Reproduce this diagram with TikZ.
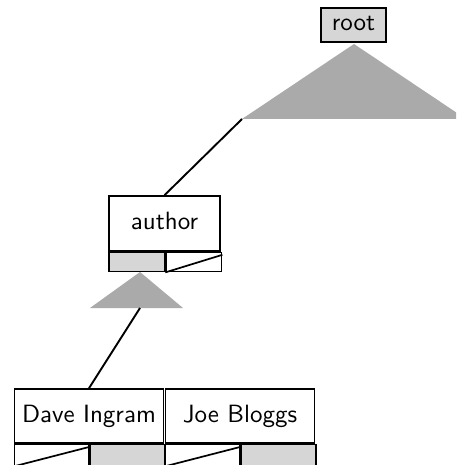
\documentclass[tikz,border=0pt]{standalone}
\usetikzlibrary{calc}
\definecolor{cellgray}{HTML}{D6D6D6}
\definecolor{trigray}{HTML}{AAAAAA}
\newcommand{\boxtext}[1]{\scalebox{2.5}{\fontsize{10}{12}\selectfont\sffamily #1}}
\begin{document}
\begin{tikzpicture}[x=1pt,y=-1pt]
\tikzset{
  box/.style={draw, line width=1.6pt, fill=white, inner sep=0pt,
    text height=18pt, text depth=6pt},
  cell/.style={draw, line width=1.6pt, fill=white, inner sep=0pt, anchor=north west},
  ptr/.style={cell, fill=cellgray},
  tri/.style={fill=trigray},
  link/.style={line width=1.9pt},
  diag/.style={line width=1.7pt},
}
\useasboundingbox (0,0) rectangle (456,465);
\clip (0,0) rectangle (456,465);

% root
\node[box, fill=cellgray, minimum width=65pt, minimum height=34pt] (root) at (353.5,25) {\boxtext{root}};
\coordinate (t1apex) at (354,44);
\coordinate (t1l) at (242,119);
\coordinate (t1r) at (466,119);
\fill[tri] (t1apex) -- (t1l) -- (t1r) -- cycle;

% author
\node[box, minimum width=111pt, minimum height=55pt] (author) at (164.5,223.5) {\boxtext{author}};
\node[ptr, minimum width=55.5pt, minimum height=19pt] (authorL) at (author.south west) {};
\node[cell, minimum width=55.5pt, minimum height=19pt] (authorR) at (authorL.north east) {};
\draw[diag] (authorR.south west) -- ($(authorR.north east)+(0,3)$);

\draw[link] (t1l) -- (author.north);

% small triangle
\coordinate (t2apex) at (140,272);
\coordinate (t2l) at (90,308);
\coordinate (t2r) at (183,308);
\coordinate (t2m) at (140,308);
\fill[tri] (t2apex) -- (t2l) -- (t2r) -- cycle;

% children
\node[box, minimum width=149pt, minimum height=54pt] (dave) at (89,416) {\boxtext{Dave Ingram}};
\node[box, minimum width=149pt, minimum height=54pt] (joe) at (240,416) {\boxtext{Joe Bloggs}};

\node[cell, minimum width=74.5pt, minimum height=22.5pt] (daveL) at (dave.south west) {};
\node[ptr, minimum width=74.5pt, minimum height=22.5pt] (daveR) at (daveL.north east) {};
\draw[diag] ($(daveL.south west)+(0,-1.5)$) -- ($(daveL.north east)+(0,3)$);

\node[cell, minimum width=74.5pt, minimum height=22.5pt] (joeL) at (joe.south west) {};
\node[ptr, minimum width=74.5pt, minimum height=22.5pt] (joeR) at (joeL.north east) {};
\draw[diag] ($(joeL.south west)+(0,-1.5)$) -- ($(joeL.north east)+(0,3)$);

\draw[link] (t2m) -- (dave.north);
\end{tikzpicture}
\end{document}
